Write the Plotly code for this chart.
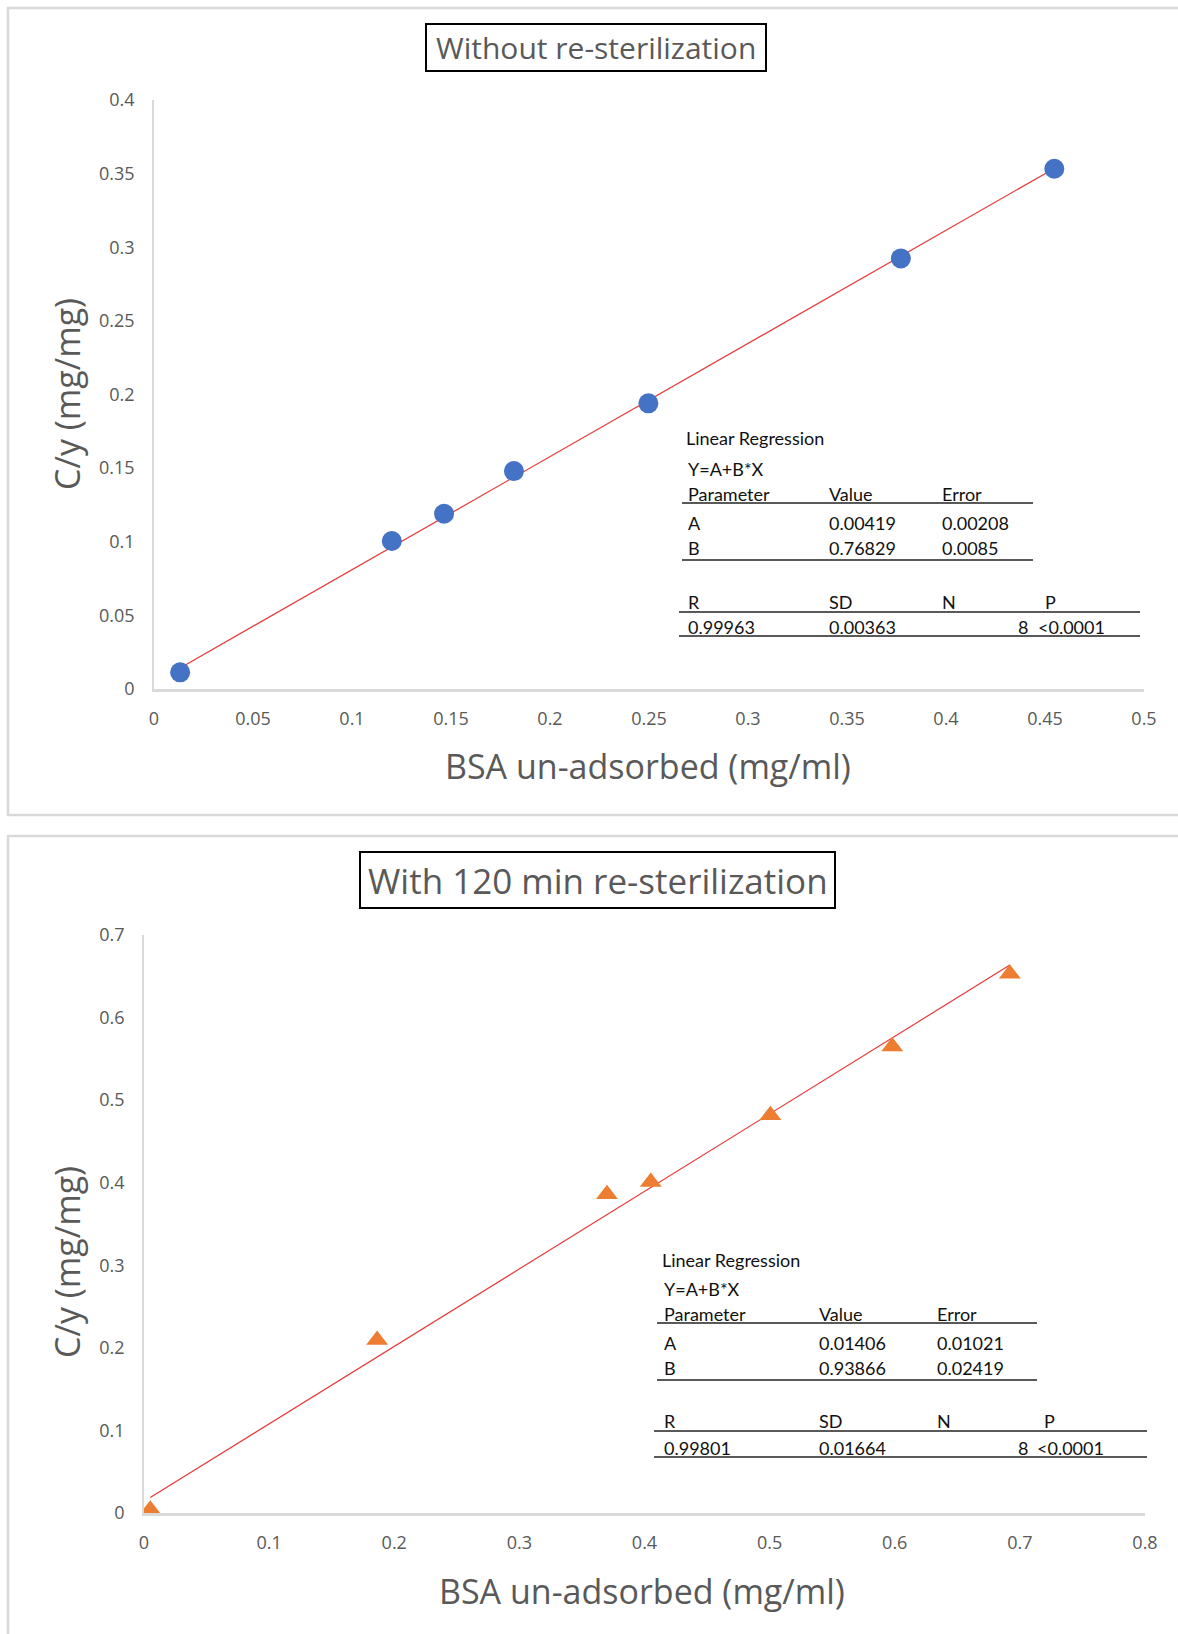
import plotly.graph_objects as go

W, H = 1178, 1634

# ---------------- data ----------------
top_title = "Without re-sterilization"
top_x = [0.0132, 0.1201, 0.1465, 0.1818, 0.2497, 0.3772, 0.4547]
top_y = [0.0113, 0.1005, 0.1190, 0.1480, 0.1940, 0.2924, 0.3533]
top_A, top_B = 0.00419, 0.76829
top_table = {
    "params": [["A", "0.00419", "0.00208"], ["B", "0.76829", "0.0085"]],
    "stats": ["0.99963", "0.00363", "8", "<0.0001"],
}

bot_title = "With 120 min re-sterilization"
bot_x = [0.005, 0.1863, 0.370, 0.405, 0.5006, 0.598, 0.692]
bot_y = [0.004, 0.2094, 0.386, 0.401, 0.4818, 0.565, 0.653]
bot_A, bot_B = 0.01406, 0.93866
bot_table = {
    "params": [["A", "0.01406", "0.01021"], ["B", "0.93866", "0.02419"]],
    "stats": ["0.99801", "0.01664", "8", "<0.0001"],
}

x_title = "BSA un-adsorbed (mg/ml)"
y_title = "C/y (mg/mg)"

# ---------------- helpers ----------------
def px(x):
    return x / W

def py(y):
    return 1 - y / H

GRAY = "#595959"
AXIS = "#D9D9D9"
TICKFONT = dict(family="Open Sans, Noto Sans, sans-serif", size=18, color=GRAY)
TBLFONT = "Lato, Carlito, sans-serif"

fig = go.Figure()

# top chart traces
fig.add_trace(go.Scatter(
    x=[min(top_x), max(top_x)],
    y=[top_A + top_B * min(top_x), top_A + top_B * max(top_x)],
    mode="lines", line=dict(color="#E8383A", width=1.2),
    xaxis="x", yaxis="y", showlegend=False, hoverinfo="skip"))
fig.add_trace(go.Scatter(
    x=top_x, y=top_y, mode="markers",
    marker=dict(symbol="circle", size=20, color="#4472C4"),
    xaxis="x", yaxis="y", showlegend=False))

# bottom chart traces
fig.add_trace(go.Scatter(
    x=[min(bot_x), max(bot_x)],
    y=[bot_A + bot_B * min(bot_x), bot_A + bot_B * max(bot_x)],
    mode="lines", line=dict(color="#E8383A", width=1.2),
    xaxis="x2", yaxis="y2", showlegend=False, hoverinfo="skip"))
fig.add_trace(go.Scatter(
    x=bot_x, y=bot_y, mode="markers",
    marker=dict(symbol="triangle-up", size=19, color="#ED7D31"),
    xaxis="x2", yaxis="y2", showlegend=False))

axis_common = dict(showgrid=False, zeroline=False, showline=True,
                   linecolor=AXIS, ticks="", tickfont=TICKFONT,
                   fixedrange=True, automargin=False)

fig.update_layout(
    width=W, height=H,
    margin=dict(l=0, r=0, t=0, b=0, pad=0, autoexpand=False),
    paper_bgcolor="white", plot_bgcolor="white",
    xaxis=dict(domain=[px(154), px(1144)], range=[0, 0.5], dtick=0.05, tick0=0,
               anchor="y", linewidth=2.5, ticklabelstandoff=12, **axis_common),
    yaxis=dict(domain=[py(689), py(100)], range=[0, 0.4], dtick=0.05, tick0=0,
               anchor="x", linewidth=1.5, ticklabelstandoff=14, **axis_common),
    xaxis2=dict(domain=[px(144), px(1145)], range=[0, 0.8], dtick=0.1, tick0=0,
                anchor="y2", linewidth=2.5, ticklabelstandoff=12, **axis_common),
    yaxis2=dict(domain=[py(1513), py(935)], range=[0, 0.7], dtick=0.1, tick0=0,
                anchor="x2", linewidth=1.5, ticklabelstandoff=14, **axis_common),
)

shapes = []
annots = []

# outer chart frames
shapes.append(dict(type="rect", xref="paper", yref="paper",
                   x0=px(8), x1=px(1190), y0=py(815), y1=py(8),
                   line=dict(color="#D9D9D9", width=2.5)))
shapes.append(dict(type="rect", xref="paper", yref="paper",
                   x0=px(8), x1=px(1190), y0=py(1650), y1=py(836),
                   line=dict(color="#D9D9D9", width=2.5)))

# title boxes
def title_box(text, x0, x1, y0, y1, size):
    shapes.append(dict(type="rect", xref="paper", yref="paper",
                       x0=px(x0), x1=px(x1), y0=py(y1), y1=py(y0),
                       line=dict(color="black", width=2)))
    annots.append(dict(text=text, xref="paper", yref="paper",
                       x=px((x0 + x1) / 2), y=py((y0 + y1) / 2),
                       xanchor="center", yanchor="middle", showarrow=False,
                       font=dict(family="Open Sans, sans-serif", size=size, color=GRAY)))

title_box(top_title, 426, 766, 24, 71, 30)
title_box(bot_title, 360, 835, 852, 908, 35)

# axis titles
def axis_titles(xc, xy, yx, yc):
    annots.append(dict(text=x_title, xref="paper", yref="paper",
                       x=px(xc), y=py(xy), xanchor="center", yanchor="middle",
                       showarrow=False,
                       font=dict(family="Open Sans, sans-serif", size=34, color=GRAY)))
    annots.append(dict(text=y_title, xref="paper", yref="paper",
                       x=px(yx), y=py(yc), xanchor="center", yanchor="middle",
                       showarrow=False, textangle=-90,
                       font=dict(family="Open Sans, sans-serif", size=34, color=GRAY)))

axis_titles(648, 766, 67, 394)
axis_titles(642, 1591, 67, 1262)

# regression tables
def table(tbl, left, cols, ys, ul_short, ul_long):
    c_par, c_val, c_err, c_p, n_right = cols
    y_lr, y_eq, y_hdr, y_a, y_b, y_r, y_last = ys
    def t(text, x, y, anchor="left", size=18):
        annots.append(dict(text=text, xref="paper", yref="paper",
                           x=px(x), y=py(y), xanchor=anchor, yanchor="middle",
                           showarrow=False,
                           font=dict(family=TBLFONT, size=size, color="#111111")))
    t("Linear Regression", c_par - 2, y_lr, size=18)
    t("Y=A+B*X", c_par, y_eq)
    t("Parameter", c_par, y_hdr)
    t("Value", c_val, y_hdr)
    t("Error", c_err, y_hdr)
    for i, row in enumerate(tbl["params"]):
        yy = y_a if i == 0 else y_b
        t(row[0], c_par, yy)
        t(row[1], c_val, yy)
        t(row[2], c_err, yy)
    t("R", c_par, y_r)
    t("SD", c_val, y_r)
    t("N", c_err, y_r)
    t("P", c_p, y_r)
    s = tbl["stats"]
    t(s[0], c_par, y_last)
    t(s[1], c_val, y_last)
    t(s[2], n_right, y_last, anchor="right")
    t(s[3], c_p - 7, y_last)
    for (x0, x1, yy) in [(left, ul_short, y_hdr + 9), (left, ul_short, y_b + 12),
                         (left - 3, ul_long, y_r + 10), (left - 3, ul_long, y_last + 9)]:
        shapes.append(dict(type="line", xref="paper", yref="paper",
                           x0=px(x0), x1=px(x1), y0=py(yy), y1=py(yy),
                           line=dict(color="#222222", width=1.6)))

table(top_table, 682, (686, 827, 940, 1043, 1030),
      (438, 469, 494, 523, 548, 602, 627), 1033, 1140)
table(bot_table, 657, (662, 817, 935, 1042, 1030),
      (1260, 1289, 1314, 1343, 1368, 1421, 1448), 1037, 1147)

fig.update_layout(shapes=shapes, annotations=annots)

post = (
    "document.documentElement.style.margin='0';"
    "document.documentElement.style.overflow='hidden';"
    "document.body.style.margin='0';"
    "document.body.style.overflow='hidden';"
)

fig.write_html("out.html", config={"displayModeBar": False}, post_script=post)
